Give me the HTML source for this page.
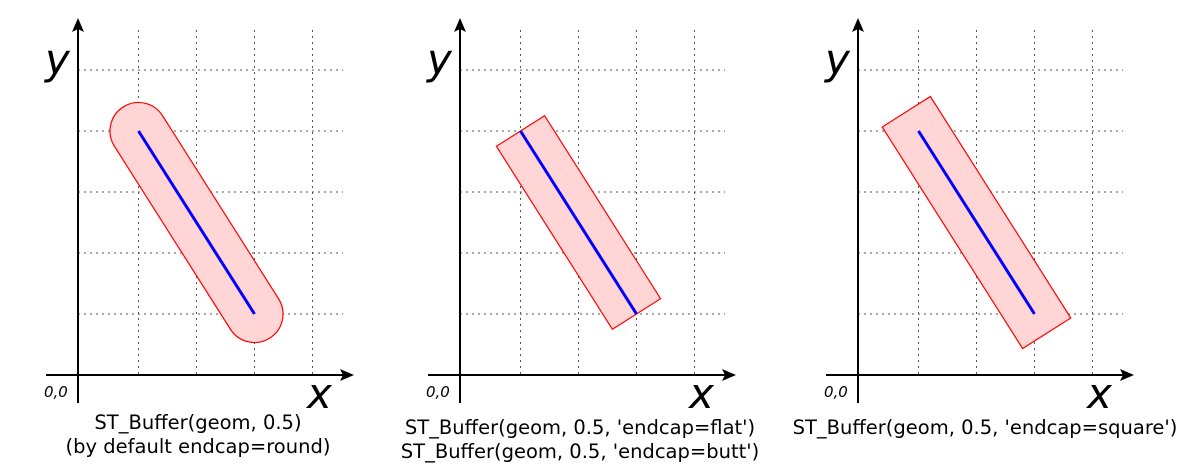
<!DOCTYPE html>
<html><head><meta charset="utf-8"><style>body{margin:0;background:#fff}svg{display:block}</style></head>
<body>
<svg id="chart" width="1200" height="476" xmlns="http://www.w3.org/2000/svg"
 font-family="'DejaVu Sans','Liberation Sans',sans-serif">
<defs><marker id="ar" markerWidth="14" markerHeight="12" refX="12" refY="6" orient="auto" markerUnits="userSpaceOnUse"><path d="M0,0 L14,6 L0,12 L3,6 Z" fill="#000"/></marker></defs>
</svg>
<script>
const panelOffsets=[0,382,780];
const lineStart=[1,4];
const lineEnd=[3,1];
const bufferDist=0.5;
const endcaps=['round','flat','square'];
const captions=[["ST_Buffer(geom, 0.5)","(by default endcap=round)"],["ST_Buffer(geom, 0.5, 'endcap=flat')","ST_Buffer(geom, 0.5, 'endcap=butt')"],["ST_Buffer(geom, 0.5, 'endcap=square')"]];
const gridX=[1,2,3,4];
const gridY=[1,2,3,4,5];
const svg=document.getElementById('chart');
const NS='http://www.w3.org/2000/svg';
const AX=78,OX=80.5,OY=375,SX=58,SY=61,UNIT=57;
function mk(t,a,p){const e=document.createElementNS(NS,t);for(const k in a)e.setAttribute(k,a[k]);(p||svg).appendChild(e);return e;}
panelOffsets.forEach((off,i)=>{
 const g=mk('g',{transform:`translate(${off},0)`});
 
 
 const px=x=>OX+x*SX, py=y=>OY-y*SY;
 gridX.forEach(v=>{const l=mk('line',{x1:px(v),x2:px(v),y1:30,y2:OY,stroke:'#555','stroke-dasharray':'2,4','stroke-width':1},g);
  });
 gridY.forEach(v=>{const l=mk('line',{x1:AX,x2:343,y1:py(v),y2:py(v),stroke:'#555','stroke-dasharray':'2,4','stroke-width':1},g);
  });
 const X1=px(lineStart[0]),Y1=py(lineStart[1]),X2=px(lineEnd[0]),Y2=py(lineEnd[1]);
 const R=bufferDist*UNIT;
 const dx=X2-X1,dy=Y2-Y1,L=Math.hypot(dx,dy),ux=dx/L,uy=dy/L,nx=-uy*R,ny=ux*R;
 const e=endcaps[i]==='square'?0.8:0, ex=ux*R*e, ey=uy*R*e;
 let d;
 if(endcaps[i]==='round'){
  d=`M${X1+nx},${Y1+ny} L${X2+nx},${Y2+ny} A${R},${R} 0 0 0 ${X2-nx},${Y2-ny} L${X1-nx},${Y1-ny} A${R},${R} 0 0 0 ${X1+nx},${Y1+ny} Z`;
 } else {
  const pts=[[X1-ex+nx,Y1-ey+ny],[X2+ex+nx,Y2+ey+ny],[X2+ex-nx,Y2+ey-ny],[X1-ex-nx,Y1-ey-ny]];
  d='M'+pts.map(p=>p[0].toFixed(1)+','+p[1].toFixed(1)).join(' L')+'Z';
 }
 const b=mk('path',{d,fill:'#ffd5d5',stroke:'#f00','stroke-width':1.2},g);
 
 const ln=mk('line',{x1:X1,y1:Y1,x2:X2,y2:Y2,stroke:'#00f','stroke-width':3},g);
 
 const ya=mk('line',{x1:AX,y1:403,x2:AX,y2:20,stroke:'#000','stroke-width':2,'marker-end':'url(#ar)'},g);
 
 const xa=mk('line',{x1:46,y1:OY,x2:352,y2:OY,stroke:'#000','stroke-width':2,'marker-end':'url(#ar)'},g);
 
 const yl=mk('text',{x:45,y:74,'font-size':42,'font-style':'italic'},g);yl.textContent='y';
 
 const xl=mk('text',{x:307,y:408,'font-size':42,'font-style':'italic'},g);xl.textContent='x';
 
 const o=mk('text',{x:44,y:397,'font-size':15,'font-style':'italic'},g);o.textContent='0,0';
 
 captions[i].forEach((c,j)=>{const t=mk('text',{x:i===2?205:198,y:(i===0?429:434)+j*24,'font-size':19.5,'text-anchor':'middle'},g);t.textContent=c;
  });
});
</script>
</body></html>
